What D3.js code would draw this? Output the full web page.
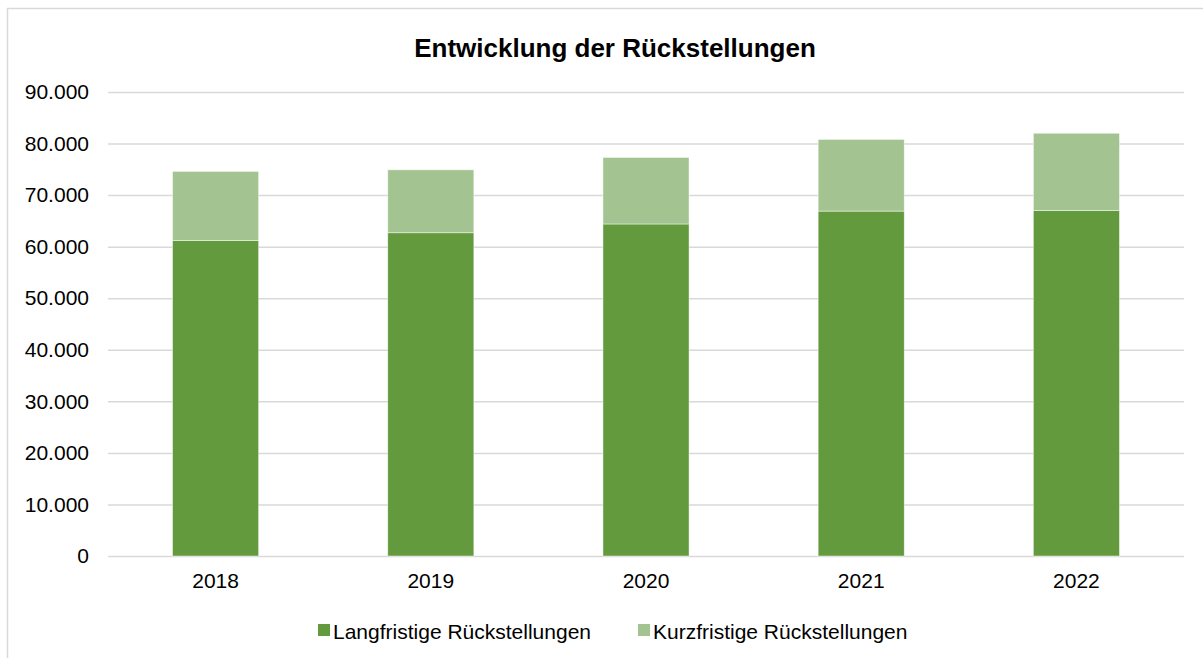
<!DOCTYPE html>
<html>
<head>
<meta charset="utf-8">
<script src="https://cdn.jsdelivr.net/npm/d3@7"></script>
<style>
  html, body { margin: 0; padding: 0; background: #fff; }
  svg { display: block; font-family: "Liberation Sans", Arial, sans-serif; }
</style>
</head>
<body>
<svg id="chart" width="1203" height="658"></svg>
<script>
const title = "Entwicklung der Rückstellungen";
const years = ["2018", "2019", "2020", "2021", "2022"];
const langfristig = [61200, 62700, 64400, 66900, 67000];
const kurzfristig = [13400, 12200, 12900, 13900, 15000];
const seriesNames = ["Langfristige Rückstellungen", "Kurzfristige Rückstellungen"];
const seriesColors = ["#629a3d", "#a3c490"];
const yTicks = [0, 10000, 20000, 30000, 40000, 50000, 60000, 70000, 80000, 90000];

const svg = d3.select("#chart");
const W = 1203, H = 658;
const margin = { left: 108, right: 19, top: 92, bottom: 102 };

// outer chart border
svg.append("rect")
  .attr("x", 7.5).attr("y", 8.5)
  .attr("width", 1210).attr("height", 670)
  .attr("fill", "#fff").attr("stroke", "#d9d9d9").attr("stroke-width", 1.5);

const x = d3.scaleBand()
  .domain(years)
  .range([margin.left, W - margin.right])
  .paddingInner(0.6).paddingOuter(0.3);

const y = d3.scaleLinear()
  .domain([0, 90000])
  .range([H - margin.bottom, margin.top]);

const fmt = v => d3.format(",")(v).replace(/,/g, ".");

// gridlines
svg.append("g")
  .attr("transform", `translate(${margin.left},0)`)
  .call(d3.axisLeft(y).tickValues(yTicks).tickSize(-(W - margin.left - margin.right)).tickFormat(""))
  .call(g => g.select(".domain").remove())
  .call(g => g.selectAll("line").attr("stroke", "#d9d9d9").attr("stroke-width", 1.5));

// y labels
svg.append("g")
  .attr("transform", `translate(${margin.left},0)`)
  .call(d3.axisLeft(y).tickValues(yTicks).tickSize(0).tickPadding(19).tickFormat(fmt))
  .call(g => g.select(".domain").remove())
  .call(g => g.selectAll("text")
    .attr("font-size", "21px")
    .attr("fill", "#000")
    .attr("font-family", "Liberation Sans, Arial, sans-serif"));

// stacked data
const table = years.map((yr, i) => ({ year: yr, lang: langfristig[i], kurz: kurzfristig[i] }));
const stack = d3.stack().keys(["lang", "kurz"])(table);

svg.append("g").selectAll("g")
  .data(stack)
  .join("g")
  .attr("fill", (d, i) => seriesColors[i])
  .selectAll("rect")
  .data(d => d)
  .join("rect")
  .attr("x", d => x(d.data.year))
  .attr("width", x.bandwidth())
  .attr("y", d => y(d[1]))
  .attr("height", d => y(d[0]) - y(d[1]))
  .attr("stroke", "#ffffff")
  .attr("stroke-opacity", 0.6)
  .attr("stroke-width", 0.75);

// x axis labels
svg.append("g")
  .attr("transform", `translate(0,${H - margin.bottom})`)
  .call(d3.axisBottom(x).tickSize(0).tickPadding(17))
  .call(g => g.select(".domain").remove())
  .call(g => g.selectAll("text")
    .attr("font-size", "21px")
    .attr("fill", "#000")
    .attr("font-family", "Liberation Sans, Arial, sans-serif"));

// title
svg.append("text")
  .attr("x", 615).attr("y", 57)
  .attr("text-anchor", "middle")
  .attr("font-size", "26px")
  .attr("font-weight", "bold")
  .attr("fill", "#000")
  .text(title);

// legend
const legendX = [318, 638];
const leg = svg.append("g");
seriesNames.forEach((name, i) => {
  leg.append("rect")
    .attr("x", legendX[i]).attr("y", 624)
    .attr("width", 12).attr("height", 12)
    .attr("fill", seriesColors[i]);
  leg.append("text")
    .attr("x", legendX[i] + 15).attr("y", 638.5)
    .attr("font-size", "21px")
    .attr("fill", "#000")
    .text(name);
});
</script>
</body>
</html>
